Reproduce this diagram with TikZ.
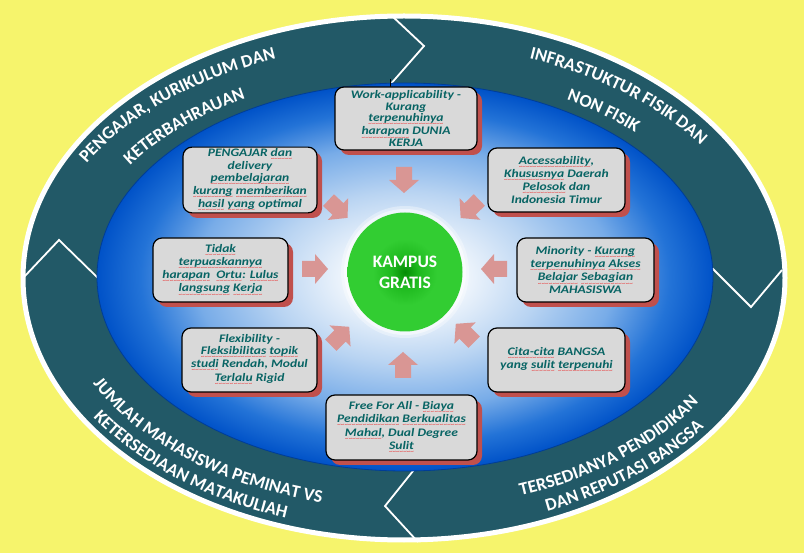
\documentclass[tikz,border=0pt]{standalone}
\usepackage{fontspec}
\setmainfont{Carlito}
\newfontfamily\boxfam{Carlito}[FakeStretch=1.18]
\usetikzlibrary{decorations.text,shadows,shapes.geometric}
\definecolor{bgyellow}{RGB}{246,244,108}
\definecolor{ringteal}{RGB}{34,89,103}
\definecolor{boxgray}{RGB}{217,217,217}
\definecolor{boxtext}{RGB}{8,100,100}
\definecolor{shadowred}{RGB}{192,80,77}
\definecolor{arrowpink}{RGB}{217,150,148}
\definecolor{squigred}{RGB}{235,45,45}
\definecolor{bA}{RGB}{185,212,242}
\definecolor{bB}{RGB}{120,172,232}
\definecolor{bC}{RGB}{35,115,215}
\definecolor{bD}{RGB}{0,82,200}
\definecolor{gA}{RGB}{5,140,5}
\definecolor{gB}{RGB}{30,185,30}
\definecolor{gC}{RGB}{50,205,50}
\pgfdeclareradialshading{bluefield}{\pgfpoint{0bp}{0bp}}{color(0bp)=(white); color(3bp)=(white); color(11bp)=(bA); color(17bp)=(bB); color(21.5bp)=(bC); color(25bp)=(bD); color(50bp)=(bD)}
\pgfdeclareradialshading{greenball}{\pgfpoint{0bp}{0bp}}{color(0bp)=(gA); color(6bp)=(gB); color(14bp)=(gC); color(25bp)=(gC); color(50bp)=(gC)}
\newcommand{\boxfont}{\boxfam\fontsize{11.5}{11.7}\selectfont\bfseries\itshape}
\newcommand{\ringfont}{\color{white}\fontsize{18}{18}\selectfont\bfseries}
\newsavebox\sqbox
\newcommand{\sq}[1]{\sbox\sqbox{#1}\rlap{\textcolor{squigred}{\lower4.2pt\hbox to \wd\sqbox{\fontsize{6}{6}\selectfont\upshape\mdseries\xleaders\hbox{\char"7E}\hfil}}}\usebox\sqbox}
\begin{document}
\begin{tikzpicture}[x=1pt,y=-1pt,
  box/.style={rectangle, rounded corners=9pt, draw=black, line width=1.2pt,
    fill=boxgray, text=boxtext, font=\boxfont, align=center, inner sep=1pt,
    drop shadow={shadow xshift=5pt, shadow yshift=-5pt, fill=shadowred, opacity=1}},
  divider/.style={draw=white, line width=1.8pt},
  ringtext/.style={decorate, decoration={text along path, text align=center, text={|\ringfont|#1}}},
  pics/barrow/.style={code={\fill[arrowpink] (-13,-8)--(0,-8)--(0,-15)--(13,0)--(0,15)--(0,8)--(-13,8)--cycle;}}
]
\useasboundingbox (0,0) rectangle (804,553);
\fill[bgyellow] (0,0) rectangle (804,553);
% outer ring
\node[ellipse, draw=white, line width=5pt, fill=ringteal, minimum width=762pt, minimum height=524pt, inner sep=0pt] (ring) at (404,278) {};
\draw[divider] (392,16) -- (424,46) -- (389,86);
\draw[divider] (24,277) -- (59,240) -- (100,280);
\draw[divider] (710,266) -- (751,307) -- (782,270);
\draw[divider] (417,466) -- (385,506) -- (418,542);
% inner field
\node[ellipse, shade, shading=bluefield, draw=bD!75!black, line width=0.8pt, minimum width=616pt, minimum height=388pt, inner sep=0pt] (field) at (405,277) {};
\draw[black, line width=0.8pt] (390,79) -- (390,87);
% ring texts
\path[ringtext={PENGAJAR, KURIKULUM DAN}] ([shift={(162.2:364pt and 234pt)}]404,278) arc[start angle=162.2, end angle=102.2, x radius=364pt, y radius=234pt];
\path[ringtext={KETERBAHRAUAN}] ([shift={(165.2:328pt and 205pt)}]404,278) arc[start angle=165.2, end angle=105.2, x radius=328pt, y radius=205pt];
\path[ringtext={INFRASTUKTUR FISIK DAN}] ([shift={(80.3:360pt and 234pt)}]404,278) arc[start angle=80.3, end angle=20.3, x radius=360pt, y radius=234pt];
\path[ringtext={NON FISIK}] ([shift={(80:328pt and 205pt)}]404,278) arc[start angle=80, end angle=20, x radius=328pt, y radius=205pt];
\path[ringtext={JUMLAH MAHASISWA PEMINAT VS}] ([shift={(201:350pt and 231pt)}]404,278) arc[start angle=201, end angle=261, x radius=350pt, y radius=231pt];
\path[ringtext={KETERSEDIAAN MATAKULIAH}] ([shift={(201:372pt and 253pt)}]404,278) arc[start angle=201, end angle=261, x radius=372pt, y radius=253pt];
\path[ringtext={TERSEDIANYA PENDIDIKAN}] ([shift={(280:350pt and 231pt)}]404,278) arc[start angle=280, end angle=340, x radius=350pt, y radius=231pt];
\path[ringtext={DAN REPUTASI BANGSA}] ([shift={(280:372pt and 253pt)}]404,278) arc[start angle=280, end angle=340, x radius=372pt, y radius=253pt];
% boxes
\node[box, minimum width=142pt, minimum height=63pt] (b1) at (406,118.5) {Work-applicability -\\Kurang\\\sq{terpenuhinya}\\\sq{harapan} DUNIA\\KERJA};
\node[box, minimum width=134pt, minimum height=64pt] (b2) at (250,180) {PENGAJAR \sq{dan}\\delivery\\\sq{pembelajaran}\\\sq{kurang} \sq{memberikan}\\\sq{hasil} \sq{yang} optimal};
\node[box, minimum width=137pt, minimum height=64pt] (b3) at (556.5,180) {\sq{Accessability},\\\sq{Khususnya} Daerah\\\sq{Pelosok} dan\\Indonesia Timur};
\node[box, minimum width=135pt, minimum height=64pt] (b4) at (220.5,270) {\sq{Tidak}\\\sq{terpuaskannya}\\\sq{harapan}\ \ \sq{Ortu}: \sq{Lulus}\\\sq{langsung} \sq{Kerja}};
\node[box, minimum width=137pt, minimum height=64pt] (b5) at (585.5,270) {Minority - \sq{Kurang}\\\sq{terpenuhinya} \sq{Akses}\\\sq{Belajar} \sq{Sebagian}\\MAHASISWA};
\node[box, minimum width=135pt, minimum height=64pt] (b6) at (249.5,360) {Flexibility -\\\sq{Fleksibilitas} \sq{topik}\\\sq{studi} Rendah, Modul\\\sq{Terlalu} Rigid};
\node[box, minimum width=137pt, minimum height=64pt] (b7) at (556.5,360) {\sq{Cita-cita} BANGSA\\yang \sq{sulit} \sq{terpenuhi}};
\node[box, minimum width=151pt, minimum height=65pt] (b8) at (401.5,427.5) {Free For All - \sq{Biaya}\\\sq{Pendidikan} \sq{Berkualitas}\\\sq{Mahal}, Dual Degree\\\sq{Sulit}};
% arrows
\pic[rotate=-90] at (404,180) {barrow};
\pic[rotate=90] at (403,365) {barrow};
\pic[rotate=0] at (315,269) {barrow};
\pic[rotate=180] at (494,269) {barrow};
\pic[rotate=-43] at (338,209) {barrow};
\pic[rotate=-136] at (470,209) {barrow};
\pic[rotate=45] at (340,336) {barrow};
\pic[rotate=135] at (465,333) {barrow};
% hub with soft white glow
\fill[white, opacity=0.35] (405,272) ellipse [x radius=64pt, y radius=66pt];
\fill[white, opacity=0.5] (405,272) ellipse [x radius=61pt, y radius=63pt];
\node[ellipse, shade, shading=greenball, minimum width=115pt, minimum height=119pt, inner sep=0pt, text=white, align=center, font=\fontsize{17.5}{21}\selectfont\bfseries] (hub) at (405,272) {KAMPUS\\GRATIS};
\end{tikzpicture}
\end{document}
